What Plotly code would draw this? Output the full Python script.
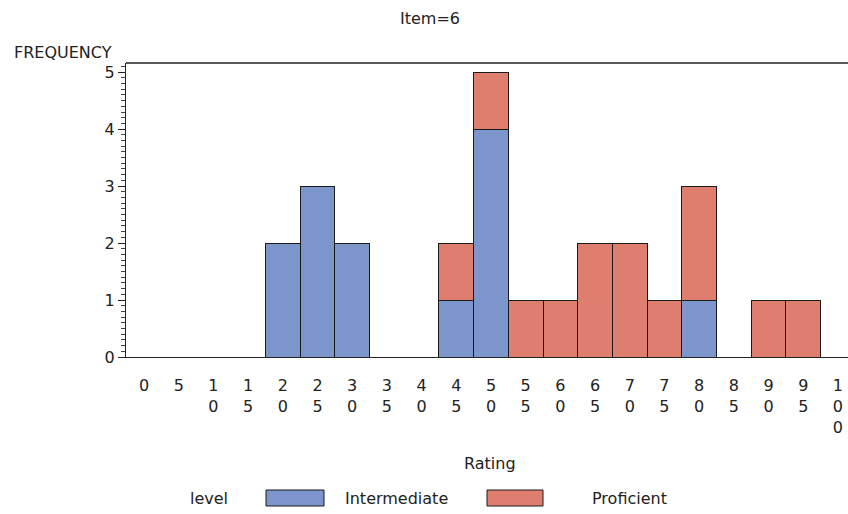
import plotly.graph_objects as go

ratings = [0, 5, 10, 15, 20, 25, 30, 35, 40, 45, 50, 55, 60, 65, 70, 75, 80, 85, 90, 95, 100]
intermediate = [0, 0, 0, 0, 2, 3, 2, 0, 0, 1, 4, 0, 0, 0, 0, 0, 1, 0, 0, 0, 0]
proficient = [0, 0, 0, 0, 0, 0, 0, 0, 0, 1, 1, 1, 1, 2, 2, 1, 2, 0, 1, 1, 0]
tick_text = ["<br>".join(list(str(r))) for r in ratings]

BLUE = "#7C95CA"
RED = "#DE7E6F"
FONT = "DejaVu Sans"
FS = 16

idx = list(range(len(ratings)))

fig = go.Figure()
fig.add_trace(go.Bar(x=idx, y=intermediate, name="Intermediate", width=1,
                     marker=dict(color=BLUE, line=dict(color="#1a1a1a", width=1)),
                     showlegend=False))
fig.add_trace(go.Bar(x=idx, y=proficient, name="Proficient", width=1,
                     marker=dict(color=RED, line=dict(color="#1a1a1a", width=1)),
                     showlegend=False))

FW, FH = 848, 514
PL, PR, PT, PB = 126, 848, 63, 357
W, H = PR - PL, PB - PT

def px(x):
    return (x - PL) / W

def py(y):
    return (PB - y) / H

fig.update_layout(
    barmode="stack",
    width=FW, height=FH,
    margin=dict(l=PL, r=FW - PR, t=PT, b=FH - PB, autoexpand=False),
    plot_bgcolor="white", paper_bgcolor="white",
    font=dict(family=FONT, size=FS, color="#222"),
    title=dict(text="Item=6", x=430 / FW, xref="container", xanchor="center",
               y=1 - 18 / FH, yref="container",
               yanchor="middle", font=dict(size=FS, family=FONT, color="#222")),
    xaxis=dict(range=[-0.52, 20.29], tickmode="array", tickvals=idx, ticktext=tick_text,
               showgrid=False, zeroline=False, showline=True, linecolor="#222", linewidth=1,
               ticks="", ticklabelstandoff=14, automargin=False,
               tickfont=dict(size=FS, family=FONT)),
    yaxis=dict(range=[0, 5.16], tickmode="array", tickvals=[0, 1, 2, 3, 4, 5],
               showgrid=False, zeroline=False, showline=True, linecolor="#222", linewidth=1,
               ticks="outside", ticklen=7, tickcolor="#222", automargin=False,
               minor=dict(dtick=0.1, ticks="outside", ticklen=4, tickcolor="#444"),
               tickfont=dict(size=FS, family=FONT)),
    shapes=[
        dict(type="line", xref="paper", yref="paper", x0=0, x1=1, y0=1, y1=1,
             line=dict(color="#222", width=1.5)),
        dict(type="rect", xref="paper", yref="paper", x0=px(266), x1=px(324),
             y0=py(506), y1=py(490), fillcolor=BLUE, line=dict(color="#1a1a1a", width=1)),
        dict(type="rect", xref="paper", yref="paper", x0=px(487), x1=px(543),
             y0=py(506), y1=py(490), fillcolor=RED, line=dict(color="#1a1a1a", width=1)),
    ],
    annotations=[
        dict(text="FREQUENCY", xref="paper", yref="paper", x=px(12), y=py(52),
             xanchor="left", yanchor="middle", showarrow=False, font=dict(size=FS, family=FONT)),
        dict(text="Rating", xref="paper", yref="paper", x=px(490), y=py(463),
             xanchor="center", yanchor="middle", showarrow=False, font=dict(size=FS, family=FONT)),
        dict(text="level", xref="paper", yref="paper", x=px(188), y=py(499),
             xanchor="left", yanchor="middle", showarrow=False, font=dict(size=FS, family=FONT)),
        dict(text="Intermediate", xref="paper", yref="paper", x=px(343), y=py(499),
             xanchor="left", yanchor="middle", showarrow=False, font=dict(size=FS, family=FONT)),
        dict(text="Proficient", xref="paper", yref="paper", x=px(590), y=py(499),
             xanchor="left", yanchor="middle", showarrow=False, font=dict(size=FS, family=FONT)),
    ],
)

fig.write_html("out.html",
               config={"displayModeBar": False},
               post_script="document.body.style.margin='0';document.body.style.overflow='hidden';")
